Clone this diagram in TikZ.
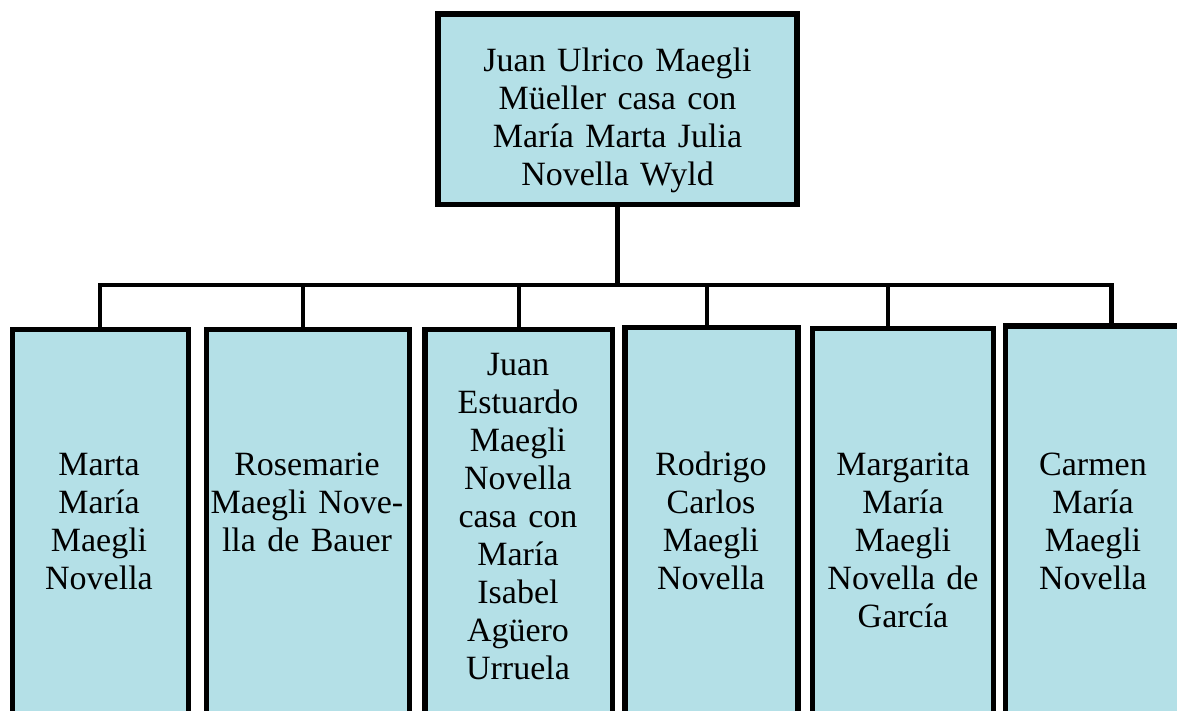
\documentclass[tikz,border=0pt]{standalone}
\usepackage{fontspec}
\setmainfont{Liberation Serif}
\definecolor{boxfill}{HTML}{B4E0E7}
\begin{document}
\begin{tikzpicture}[x=1pt,y=-1pt,
  famebox/.style={draw=black,fill=boxfill,line width=5.5pt,rectangle,inner sep=0pt,outer sep=0pt,anchor=north west},
  conn/.style={draw=black,line width=4.5pt},
  lbl/.style={text width=400pt,align=center,anchor=base,inner sep=0pt,font=\fontsize{34}{38}\selectfont}]
\useasboundingbox (0,0) rectangle (1177,711);
\clip (0,0) rectangle (1177,711);
% boxes (positioned by border centre line)
\node[famebox,minimum width=359pt,minimum height=190.5pt] (top) at (438,14) {};
\node[famebox,minimum width=176pt,minimum height=420pt] (c1) at (12.5,329.5) {};
\node[famebox,minimum width=203pt,minimum height=420pt] (c2) at (206.5,329.5) {};
\node[famebox,minimum width=187.5pt,minimum height=420pt] (c3) at (425,329.5) {};
\node[famebox,minimum width=173pt,minimum height=420pt] (c4) at (625,327.5) {};
\node[famebox,minimum width=181pt,minimum height=420pt] (c5) at (812.5,328.5) {};
\node[famebox,minimum width=185pt,minimum height=420pt] (c6) at (1005.5,326) {};
% connectors
\coordinate (bar) at (0,285);
\draw[conn] (top.south) -- (top.south |- bar);
\draw[conn] ([xshift=-0.5pt]c1.north) -- ([xshift=-0.5pt]c1.north |- bar)
  -- ([xshift=13.5pt]c6.north |- bar) -- ([xshift=13.5pt]c6.north);
\draw[conn] ([xshift=-5pt]c2.north) -- ([xshift=-5pt]c2.north |- bar);
\draw[conn] ([yshift=3pt]c3.north) -- (c3.north |- bar);
\draw[conn] ([xshift=-4.5pt]c4.north) -- ([xshift=-4.5pt]c4.north |- bar);
\draw[conn] ([xshift=-15pt]c5.north) -- ([xshift=-15pt]c5.north |- bar);
% labels
\node[lbl] (ttop) at (617.5,72) {Juan Ulrico Maegli\\Müeller casa con\\María Marta Julia\\Novella Wyld};
\node[lbl] (t1) at (99,475) {Marta\\María\\Maegli\\Novella};
\node[lbl] (t2) at (307,475) {Rosemarie\\Maegli Nove-\\lla de Bauer};
\node[lbl] (t3) at (518,375) {Juan\\Estuardo\\Maegli\\Novella\\casa con\\María\\Isabel\\Agüero\\Urruela};
\node[lbl] (t4) at (711,475) {Rodrigo\\Carlos\\Maegli\\Novella};
\node[lbl] (t5) at (903,475) {Margarita\\María\\Maegli\\Novella de\\García};
\node[lbl] (t6) at (1093,475) {Carmen\\María\\Maegli\\Novella};
\end{tikzpicture}
\end{document}
